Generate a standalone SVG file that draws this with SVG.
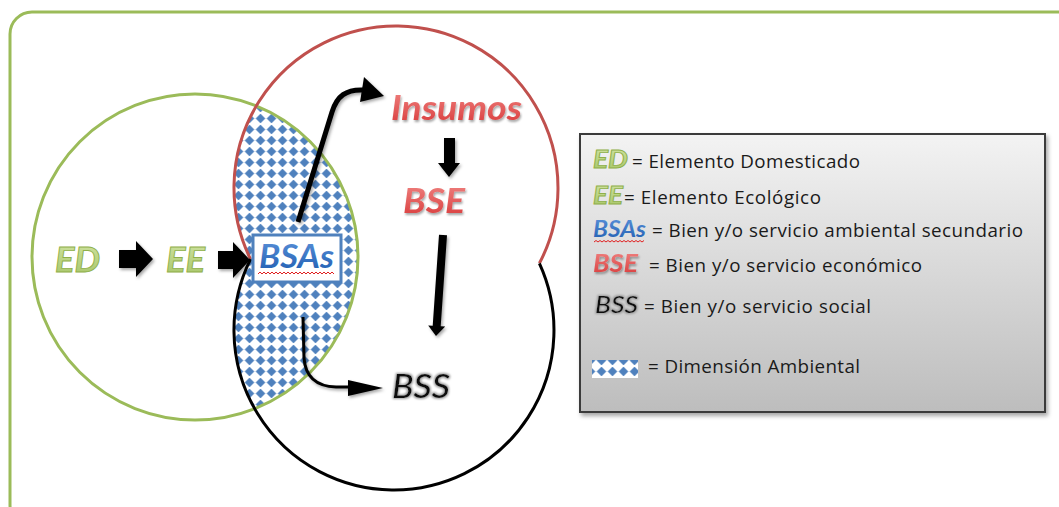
<svg xmlns="http://www.w3.org/2000/svg" width="1059" height="507" viewBox="0 0 1059 507">
<style>
.lbl{font-family:Lato,"Liberation Sans",sans-serif;font-weight:bold;font-style:italic}
.grn{fill:url(#gGreen);stroke:#8fb04a;stroke-width:0.9}
.red{fill:url(#gRed);filter:url(#shRed)}
.blu{fill:url(#gBlue)}
.bss{font-family:Lato,"Liberation Sans",sans-serif;font-style:italic;font-weight:normal;fill:#111;filter:url(#glow)}
.leg{font-family:"Open Sans",Lato,sans-serif;font-size:18.8px;fill:#1a1a1a}
.blk{fill:#000;filter:url(#shBlk)}
.wave{fill:none;stroke:#e02020;stroke-width:1}
</style>
<defs>
<pattern id="dots" width="11" height="11" patternUnits="userSpaceOnUse" x="2" y="3">
<rect width="11" height="11" fill="#fff"/>
<path d="M5.5,1 L10,5.5 L5.5,10 L1,5.5 Z" fill="#4f81bd" stroke="#4f81bd" stroke-width="0.6" stroke-linejoin="round"/>
</pattern>
<linearGradient id="gGreen" x1="0" y1="0" x2="0" y2="1"><stop offset="0" stop-color="#d4e6a8"/><stop offset="1" stop-color="#a5c466"/></linearGradient>
<linearGradient id="gRed" x1="0" y1="0" x2="0" y2="1"><stop offset="0" stop-color="#f28a88"/><stop offset="1" stop-color="#d83a3a"/></linearGradient>
<linearGradient id="gBlue" x1="0" y1="0" x2="0" y2="1"><stop offset="0" stop-color="#5f95dc"/><stop offset="1" stop-color="#1d5cb0"/></linearGradient>
<linearGradient id="gLeg" x1="0" y1="0" x2="0" y2="1"><stop offset="0" stop-color="#f3f3f3"/><stop offset="1" stop-color="#bdbdbd"/></linearGradient>
<filter id="shRed" x="-10%" y="-20%" width="130%" height="150%"><feDropShadow dx="1" dy="2" stdDeviation="1.2" flood-color="#000" flood-opacity="0.35"/></filter>
<filter id="shBlk" x="-20%" y="-20%" width="150%" height="150%"><feDropShadow dx="1.5" dy="2" stdDeviation="1.5" flood-color="#000" flood-opacity="0.35"/></filter>
<filter id="shBox" x="-5%" y="-5%" width="112%" height="112%"><feDropShadow dx="2" dy="3" stdDeviation="2" flood-color="#000" flood-opacity="0.35"/></filter>
<filter id="glow" x="-20%" y="-30%" width="140%" height="160%"><feMorphology in="SourceAlpha" operator="dilate" radius="1.2" result="d"/><feGaussianBlur in="d" stdDeviation="1.2" result="b"/><feFlood flood-color="#9a9a9a"/><feComposite in2="b" operator="in" result="g"/><feMerge><feMergeNode in="g"/><feMergeNode in="SourceGraphic"/></feMerge></filter>
<clipPath id="greenClip"><circle cx="195" cy="257" r="163"/></clipPath>
</defs>

<rect id="frame" x="10" y="12" width="1075" height="515" rx="22" fill="#fff" stroke="#9bbb59" stroke-width="3"/>

<g id="dimension-ambiental">
<path d="M250.5,259.2 A162,162 0 1 1 539.4,263.3 A160,160 0 1 1 250.5,259.2 Z" fill="url(#dots)" clip-path="url(#greenClip)"/>
</g>

<g id="circle-ecologico">
<circle cx="195" cy="257" r="163" fill="none" stroke="#9bbb59" stroke-width="3"/>
</g>
<g id="circle-economico">
<path d="M250.5,259.2 A162,162 0 1 1 539.4,263.3" fill="none" stroke="#c0504d" stroke-width="3"/>
</g>
<g id="circle-social">
<path d="M539.4,263.3 A160,160 0 1 1 250.5,259.2" fill="none" stroke="#000" stroke-width="3"/>
</g>

<g id="connectors">
<polygon class="blk" points="119,250 136,250 136,241 153,259 136,277 136,268 119,268"/>
<polygon class="blk" points="218,251 233,251 233,242 250,260 233,278 233,269 218,269"/>
<path d="M298,222 L332,112 C337,96 346,89 364,90" fill="none" stroke="#000" stroke-width="5" filter="url(#shBlk)"/>
<polygon points="364,77 384,96 360,102" fill="#000" filter="url(#shBlk)"/>
<polygon class="blk" points="444,138 455,138 455,163 460,163 449,177 438,163 444,163"/>
<polygon class="blk" points="439,234.7 447,235.3 440.7,326.3 445.2,326.6 436,336 428.2,325.4 432.7,325.7"/>
<path d="M303,317 L304,358 Q306,386 336,387 L350,387" fill="none" stroke="#000" stroke-width="3" filter="url(#shBlk)"/>
<polygon points="348,380 383,388 348,396" fill="#000" filter="url(#shBlk)"/>
</g>

<g id="node-ED"><text class="lbl grn" x="55" y="272" font-size="35" textLength="45" lengthAdjust="spacingAndGlyphs">ED</text></g>
<g id="node-EE"><text class="lbl grn" x="166" y="272" font-size="35" textLength="39" lengthAdjust="spacingAndGlyphs">EE</text></g>
<g id="node-BSAs">
<rect x="253" y="235" width="88" height="47" fill="#fff" stroke="#4f81bd" stroke-width="3"/>
<text class="lbl blu" x="259" y="268" font-size="33" textLength="75" lengthAdjust="spacingAndGlyphs">BSAs</text>
<path class="wave" d="M258,274 l2,-2 l2,2 l2,-2 l2,2 l2,-2 l2,2 l2,-2 l2,2 l2,-2 l2,2 l2,-2 l2,2 l2,-2 l2,2 l2,-2 l2,2 l2,-2 l2,2 l2,-2 l2,2 l2,-2 l2,2 l2,-2 l2,2 l2,-2 l2,2 l2,-2 l2,2 l2,-2 l2,2 l2,-2 l2,2 l2,-2 l2,2 l2,-2 l2,2 l2,-2 l2,2"/>
</g>
<g id="node-Insumos"><text class="lbl red" x="391" y="120" font-size="35" textLength="131" lengthAdjust="spacingAndGlyphs">Insumos</text></g>
<g id="node-BSE"><text class="lbl red" x="403" y="213" font-size="35" textLength="62" lengthAdjust="spacingAndGlyphs">BSE</text></g>
<g id="node-BSS"><text class="bss" x="392" y="398" font-size="33" textLength="58" lengthAdjust="spacingAndGlyphs">BSS</text></g>

<g id="legend">
<rect x="580" y="134" width="465" height="278" fill="url(#gLeg)" stroke="#3a3a3a" stroke-width="2" filter="url(#shBox)"/>
<text class="lbl grn" x="593" y="168" font-size="24" textLength="35" lengthAdjust="spacingAndGlyphs">ED</text>
<text class="leg" x="632" y="168" textLength="228">= Elemento Domesticado</text>
<text class="lbl grn" x="593" y="204" font-size="24" textLength="30" lengthAdjust="spacingAndGlyphs">EE</text>
<text class="leg" x="624" y="204" textLength="197">= Elemento Ecológico</text>
<text class="lbl blu" x="593" y="237" font-size="22" textLength="53" lengthAdjust="spacingAndGlyphs">BSAs</text>
<path class="wave" d="M594,242 l2,-1.5 l2,1.5 l2,-1.5 l2,1.5 l2,-1.5 l2,1.5 l2,-1.5 l2,1.5 l2,-1.5 l2,1.5 l2,-1.5 l2,1.5 l2,-1.5 l2,1.5 l2,-1.5 l2,1.5 l2,-1.5 l2,1.5 l2,-1.5 l2,1.5 l2,-1.5 l2,1.5 l2,-1.5 l2,1.5 l2,-1.5"/>
<text class="leg" x="652" y="237" textLength="371">= Bien y/o servicio ambiental secundario</text>
<text class="lbl red" x="593" y="272" font-size="25" textLength="45" lengthAdjust="spacingAndGlyphs">BSE</text>
<text class="leg" x="649" y="272" textLength="273">= Bien y/o servicio económico</text>
<text class="bss" x="595" y="313" font-size="23" textLength="43" lengthAdjust="spacingAndGlyphs">BSS</text>
<text class="leg" x="644" y="313" textLength="227">= Bien y/o servicio social</text>
<rect x="592" y="360" width="46" height="18" fill="url(#dots)"/>
<text class="leg" x="648" y="373" textLength="212">= Dimensión Ambiental</text>
</g>
</svg>
